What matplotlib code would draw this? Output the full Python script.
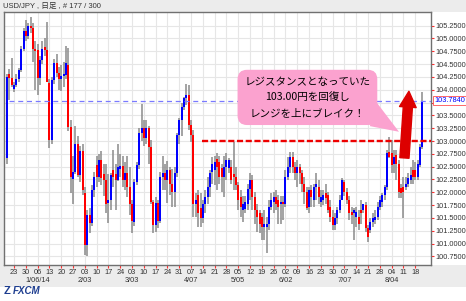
import numpy as np
import matplotlib
matplotlib.use('Agg')
import matplotlib.pyplot as plt
from matplotlib.patches import Polygon, Rectangle
from matplotlib.transforms import blended_transform_factory

plt.rcParams['font.family'] = ['Liberation Sans', 'Noto Sans CJK JP', 'DejaVu Sans']

# USD/JPY daily bars, 2013-12-18 .. 2014-08-21 (177 bars)
opens = [
    102.66, 104.30, 104.22, 104.02, 104.10, 104.20, 104.38, 104.79, 105.15, 105.05,
    105.25, 105.20, 104.80, 104.78, 104.22, 104.58, 104.83, 104.78, 104.13, 103.02,
    104.19, 104.52, 104.33, 104.20, 104.27, 104.28, 104.48, 103.28, 102.25, 102.40,
    102.95, 102.33, 102.80, 101.98, 100.98, 101.55, 101.40, 102.05, 102.53, 102.30,
    102.63, 102.35, 102.24, 101.80, 101.85, 102.43, 102.35, 102.24, 102.45, 102.52,
    102.24, 102.37, 102.11, 101.78, 101.43, 102.20, 102.53, 103.15, 103.25, 103.05,
    103.25, 102.88, 101.82, 101.36, 101.80, 101.45, 102.30, 102.37, 102.24, 102.43,
    102.17, 102.00, 102.37, 103.12, 103.40, 103.66, 103.83, 103.90, 103.31, 103.11,
    101.78, 101.95, 101.70, 101.50, 101.78, 101.91, 102.10, 102.40, 102.43, 102.65,
    102.60, 102.48, 102.30, 102.50, 102.47, 102.50, 102.35, 102.30, 102.14, 101.90,
    101.65, 101.68, 101.78, 102.07, 102.24, 101.91, 101.65, 101.59, 101.52, 101.33,
    101.33, 101.39, 101.72, 101.82, 101.91, 101.85, 101.78, 101.82, 101.78, 102.30,
    102.50, 102.69, 102.50, 102.37, 102.50, 102.37, 102.17, 102.01, 101.72, 102.04,
    101.85, 102.11, 102.11, 101.82, 101.85, 101.98, 101.95, 101.72, 101.52, 101.36,
    101.49, 101.65, 101.85, 102.21, 102.01, 101.85, 101.62, 101.59, 101.52, 101.52,
    101.65, 101.65, 101.75, 101.30, 101.26, 101.43, 101.46, 101.52, 101.72, 101.82,
    101.95, 102.11, 102.79, 102.76, 102.56, 102.72, 102.56, 102.08, 102.11, 102.11,
    102.17, 102.24, 102.43, 102.43, 102.30, 102.53, 102.89,
]
highs = [
    104.30, 104.40, 104.61, 104.15, 104.30, 104.42, 104.86, 105.20, 105.35, 105.30,
    105.42, 105.30, 104.95, 104.90, 104.65, 104.95, 105.00, 105.32, 104.20, 104.25,
    104.60, 104.70, 104.45, 104.48, 104.55, 104.85, 104.82, 103.40, 102.70, 103.30,
    103.10, 102.90, 102.95, 102.11, 101.65, 101.70, 102.15, 102.40, 102.70, 102.75,
    102.80, 102.56, 102.56, 102.35, 102.38, 102.82, 102.56, 102.95, 102.75, 102.70,
    102.60, 102.70, 102.50, 101.85, 102.25, 102.60, 103.25, 103.73, 103.40, 103.40,
    103.30, 103.02, 101.85, 101.90, 101.85, 102.40, 102.70, 102.55, 102.62, 102.50,
    102.45, 102.50, 103.15, 103.45, 103.75, 103.85, 104.12, 104.10, 103.40, 103.21,
    101.98, 102.05, 101.98, 101.85, 102.04, 102.30, 102.43, 102.69, 102.70, 102.76,
    102.70, 102.56, 102.70, 102.76, 102.66, 102.63, 102.99, 102.50, 102.20, 102.04,
    101.92, 101.92, 102.17, 102.37, 102.34, 102.00, 101.78, 101.65, 101.59, 101.65,
    101.52, 101.85, 101.98, 102.01, 102.04, 101.95, 101.92, 101.92, 102.43, 102.69,
    102.79, 102.79, 102.60, 102.63, 102.56, 102.43, 102.30, 102.11, 102.11, 102.15,
    102.17, 102.37, 102.24, 102.04, 102.04, 102.17, 102.01, 101.85, 101.65, 101.59,
    101.72, 101.95, 102.27, 102.24, 102.08, 101.92, 101.72, 101.69, 101.72, 101.65,
    101.85, 101.78, 101.82, 101.36, 101.49, 101.59, 101.65, 101.82, 101.92, 101.98,
    102.14, 102.82, 103.08, 103.02, 102.82, 102.82, 102.63, 102.17, 102.30, 102.30,
    102.37, 102.50, 102.63, 102.60, 102.63, 102.95, 103.96,
]
lows = [
    102.55, 103.80, 104.06, 103.95, 104.05, 104.15, 104.35, 104.75, 104.95, 104.98,
    105.10, 104.55, 104.00, 103.90, 104.10, 104.50, 104.65, 104.15, 102.86, 102.95,
    104.12, 104.25, 104.00, 103.98, 104.05, 104.20, 103.20, 101.98, 101.78, 102.35,
    102.30, 102.20, 101.95, 100.78, 100.75, 101.20, 101.35, 101.90, 102.10, 102.20,
    102.15, 101.92, 101.59, 101.40, 101.65, 102.10, 101.65, 102.22, 102.30, 102.10,
    102.05, 101.90, 101.55, 101.20, 101.35, 102.15, 102.45, 103.00, 102.90, 102.95,
    102.56, 101.77, 101.20, 101.22, 101.30, 101.40, 102.05, 102.05, 101.80, 101.95,
    101.72, 101.72, 102.30, 102.95, 103.10, 103.60, 103.70, 103.22, 102.98, 101.52,
    101.52, 101.33, 101.33, 101.40, 101.59, 101.78, 101.91, 102.17, 102.15, 102.05,
    102.17, 102.00, 101.90, 102.24, 102.37, 102.17, 102.04, 102.04, 101.65, 101.52,
    101.43, 101.59, 101.65, 101.85, 101.65, 101.39, 101.23, 101.20, 101.07, 101.07,
    100.81, 101.26, 101.65, 101.59, 101.65, 101.39, 101.39, 101.46, 101.72, 102.24,
    102.37, 102.37, 102.24, 102.11, 102.17, 102.00, 101.78, 101.65, 101.60, 101.72,
    101.72, 101.85, 101.78, 101.72, 101.75, 101.78, 101.59, 101.43, 101.26, 101.26,
    101.39, 101.59, 101.85, 101.92, 101.78, 101.46, 101.39, 101.07, 101.33, 101.26,
    101.39, 101.59, 101.23, 101.04, 101.20, 101.33, 101.39, 101.46, 101.65, 101.72,
    101.85, 102.04, 102.66, 102.37, 102.37, 102.24, 101.88, 101.88, 101.49, 102.04,
    102.11, 102.17, 102.17, 102.24, 102.24, 102.50, 102.85,
]
closes = [
    104.25, 104.22, 104.09, 104.10, 104.20, 104.38, 104.79, 105.15, 105.05, 105.25,
    105.20, 104.80, 104.75, 104.22, 104.58, 104.80, 104.78, 104.15, 103.02, 104.19,
    104.52, 104.33, 104.20, 104.27, 104.30, 104.52, 103.28, 102.30, 102.40, 102.95,
    102.33, 102.80, 102.05, 100.97, 101.55, 101.40, 102.05, 102.30, 102.30, 102.63,
    102.28, 102.24, 101.78, 101.85, 102.33, 102.30, 102.24, 102.50, 102.52, 102.24,
    102.37, 102.11, 101.78, 101.45, 102.20, 102.53, 103.15, 103.25, 103.05, 103.25,
    102.88, 101.82, 101.36, 101.80, 101.45, 102.30, 102.37, 102.24, 102.43, 102.17,
    102.00, 102.37, 103.12, 103.40, 103.66, 103.83, 103.90, 103.31, 103.11, 101.78,
    101.85, 101.59, 101.50, 101.78, 101.91, 102.10, 102.37, 102.56, 102.60, 102.50,
    102.30, 102.30, 102.50, 102.63, 102.63, 102.24, 102.30, 102.14, 101.85, 101.72,
    101.78, 101.81, 102.07, 102.24, 101.91, 101.65, 101.52, 101.39, 101.33, 101.39,
    101.39, 101.72, 101.85, 101.91, 101.78, 101.72, 101.82, 101.78, 102.30, 102.50,
    102.69, 102.50, 102.37, 102.50, 102.37, 102.17, 102.01, 101.69, 102.04, 101.91,
    102.10, 102.17, 101.91, 101.91, 101.95, 101.88, 101.65, 101.52, 101.36, 101.49,
    101.65, 101.85, 102.24, 102.01, 101.85, 101.59, 101.56, 101.65, 101.62, 101.39,
    101.59, 101.78, 101.30, 101.13, 101.43, 101.49, 101.52, 101.72, 101.85, 101.95,
    102.11, 102.76, 102.69, 102.53, 102.69, 102.56, 102.01, 101.98, 102.01, 102.17,
    102.27, 102.34, 102.30, 102.30, 102.56, 102.89, 103.784,
]

# weekly ticks (Mondays), first one is bar 3
day_labels = ['23', '30', '06', '13', '20', '27', '03', '10', '17', '24', '03', '10',
              '17', '24', '31', '07', '14', '21', '28', '05', '12', '19', '26', '02',
              '09', '16', '23', '30', '07', '14', '21', '28', '04', '11', '18']
month_labels = {2: '1/06/14', 6: '2/03', 10: '3/03', 15: '4/07',
                19: '5/05', 23: '6/02', 28: '7/07', 32: '8/04'}
price_ticks = [100.75, 101.00, 101.25, 101.50, 101.75, 102.00, 102.25, 102.50, 102.75,
               103.00, 103.25, 103.50, 103.75, 104.00, 104.25, 104.50, 104.75, 105.00, 105.25]
resistance = 103.00
last_price = 103.784
title = 'USD/JPY , 日足 , # 177 / 300'
callout_lines = ['レジスタンスとなっていた', '103.00円を回復し', 'レンジを上にブレイク！']

W, H = 466, 301
fig = plt.figure(figsize=(W / 100, H / 100), dpi=100)
fig.patch.set_facecolor('white')
# grey bands at top and under the plot (behind the axes)
band = dict(transform=fig.transFigure, fc='#ececec', ec='none', zorder=-5)
fig.patches.append(Rectangle((0, 1 - 12 / H), 1, 12 / H, **band))
fig.patches.append(Rectangle((0, 14 / H), 1, 22 / H, **band))
fig.patches.append(Rectangle((0, 14 / H), 4 / W, 1 - 26 / H, **band))

ax = fig.add_axes([4 / W, 36 / H, 427 / W, 253 / H])
ax.set_facecolor('white')

x = np.arange(len(closes))
o = np.array(opens)
c = np.array(closes)
up = c >= o
body_lo = np.minimum(o, c)
body_h = np.maximum(np.abs(c - o), 0.02)

ax.vlines(x, lows, highs, color='#8a8a8a', lw=1.1, zorder=2)
ax.bar(x[up], body_h[up], bottom=body_lo[up], width=0.85, color='#0000ff', lw=0, zorder=3)
ax.bar(x[~up], body_h[~up], bottom=body_lo[~up], width=0.85, color='#ff0000', lw=0, zorder=3)

ax.set_xlim(-1.27, 179.66)
ax.set_ylim(100.583, 105.515)

# reference lines
ax.hlines(last_price, 1, 179.66, colors='#7a7aff', linestyles=(0, (4, 3)), lw=0.9, zorder=4)
ax.hlines(resistance, 82.6, 179.66, colors='#ee0000', linestyles=(0, (2.6, 1.1)), lw=1.7, zorder=4)

# weekly ticks + month row underneath
week_pos = [3 + 5 * k for k in range(len(day_labels))]
ax.set_xticks(week_pos)
ax.set_xticklabels(day_labels, fontsize=5.3, color='#333333')
xtrans = blended_transform_factory(ax.transData, ax.transAxes)
for k, lab in month_labels.items():
    ax.text(week_pos[k], -0.060, lab, transform=xtrans, ha='center', va='center',
            fontsize=5.3, color='#333333', clip_on=False)

ax.yaxis.tick_right()
ax.set_yticks(price_ticks)
ax.set_yticklabels(['' if abs(p - 103.75) < 1e-6 else '%.4f' % p for p in price_ticks],
                   fontsize=5.3, color='#333333')
ax.tick_params(axis='x', length=2.2, width=0.8, color='#ff3030', pad=0.6)
ax.tick_params(axis='y', length=2.2, width=0.8, color='#ff3030', pad=1.2)
ax.grid(True, color='#e6e6e6', lw=0.8)
ax.set_axisbelow(True)
for s in ax.spines.values():
    s.set_color('#707070')
    s.set_linewidth(1.0)

# current price box
trans = blended_transform_factory(ax.transAxes, ax.transData)
ax.text(1.008, last_price, '%.4f' % last_price, transform=trans, ha='left', va='center',
        fontsize=5.3, color='#0000ff', zorder=10, clip_on=False,
        bbox=dict(boxstyle='square,pad=0.15', fc='white', ec='#ff5050', lw=0.6))

# callout
pink = '#fba2cf'
ax.add_patch(Polygon([[155.5, 103.82], [153.8, 103.29], [166.1, 103.18]], closed=True,
                     fc=pink, ec='none', zorder=6))
ax.text(127.3, 103.85, '\n'.join(callout_lines), ha='center', va='center', fontsize=7.6,
        linespacing=1.72, color='black', family=['Noto Sans CJK JP', 'DejaVu Sans'], zorder=7,
        bbox=dict(boxstyle='round,pad=0.65,rounding_size=0.9', fc=pink, ec='none'))

# red up arrow
ax.annotate('', xy=(170.3, 103.97), xytext=(168.4, 102.67),
            arrowprops=dict(arrowstyle='simple,head_length=0.95,head_width=1.0,tail_width=0.55',
                            color='#dd0000', shrinkA=0, shrinkB=0, mutation_scale=12),
            zorder=8)

fig.text(3 / W, 1 - 6 / H, title, fontsize=5.5, color='#333333', va='center', ha='left')
fig.text(4 / W, 1 - 291 / H, 'Z', fontsize=8, fontweight='bold', color='#1d3d8f',
         va='center', ha='left')
fig.text(13 / W, 1 - 291 / H, 'FXCM', fontsize=7, fontweight='bold', style='italic',
         color='#1d3d8f', va='center', ha='left')

fig.savefig('out.png', dpi=100, facecolor=fig.get_facecolor())
